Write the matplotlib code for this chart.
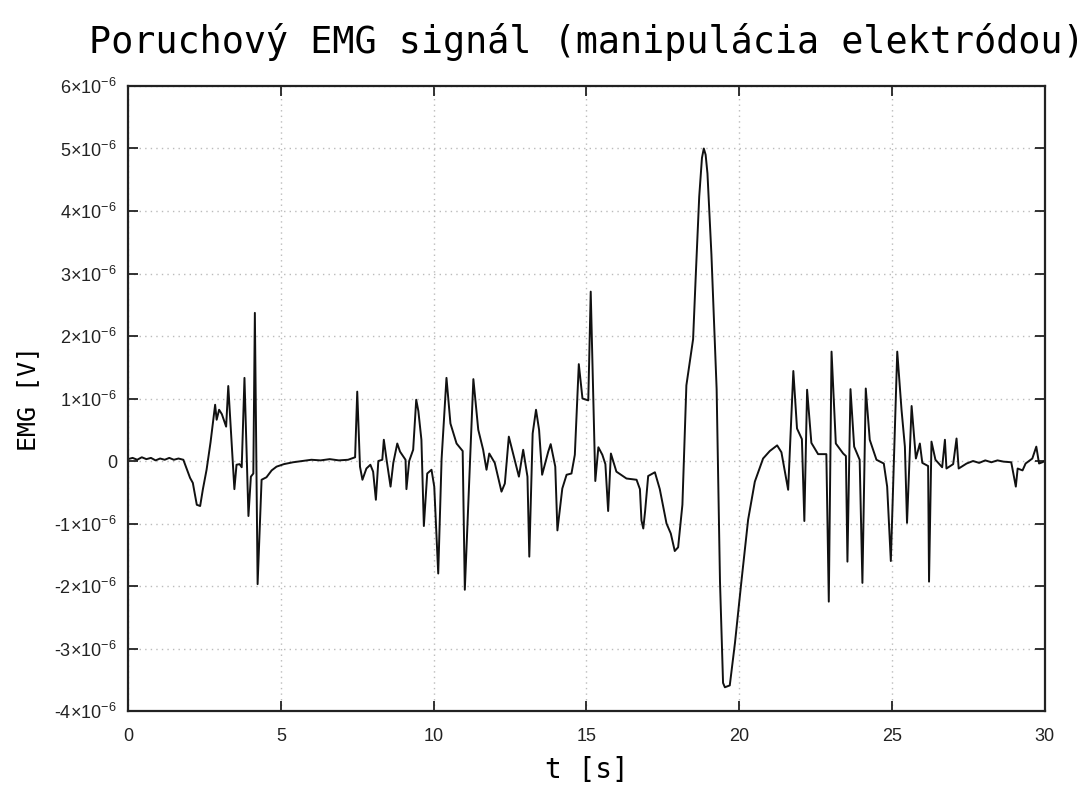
import numpy as np
import matplotlib
matplotlib.use('Agg')
import matplotlib.pyplot as plt
from matplotlib.ticker import FuncFormatter

# time [s] and EMG value [uV]
t_s = [0.00, 0.15, 0.30, 0.45, 0.60, 0.75, 0.90, 1.05, 1.20, 1.35, 1.50, 1.65, 1.81,
       2.03, 2.12, 2.25, 2.36, 2.45, 2.57, 2.70, 2.85, 2.90, 2.98, 3.07, 3.21, 3.28,
       3.48, 3.55, 3.65, 3.72, 3.81, 3.94, 4.02, 4.10, 4.15, 4.24, 4.37, 4.53, 4.70,
       4.86, 5.10, 5.40, 5.70, 6.00, 6.30, 6.60, 6.90, 7.20, 7.43, 7.50, 7.59, 7.67,
       7.80, 7.93, 8.02, 8.11, 8.19, 8.32, 8.37, 8.46, 8.59, 8.68, 8.81, 8.90, 9.08,
       9.11, 9.20, 9.33, 9.43, 9.50, 9.60, 9.68, 9.79, 9.93, 10.02, 10.15, 10.26,
       10.42, 10.55, 10.75, 10.95, 11.02, 11.30, 11.46, 11.62, 11.73, 11.82, 12.00,
       12.22, 12.33, 12.46, 12.60, 12.79, 12.93, 13.07, 13.13, 13.24, 13.35, 13.45,
       13.55, 13.75, 13.83, 13.98, 14.05, 14.21, 14.35, 14.51, 14.62, 14.75, 14.87,
       15.06, 15.14, 15.29, 15.39, 15.52, 15.62, 15.71, 15.80, 15.98, 16.31, 16.64,
       16.75, 16.80, 16.86, 16.92, 17.02, 17.24, 17.40, 17.62, 17.76, 17.89, 18.00,
       18.14, 18.27, 18.38, 18.49, 18.58, 18.69, 18.78, 18.84, 18.90, 18.96, 19.09,
       19.26, 19.37, 19.47, 19.53, 19.69, 19.86, 20.07, 20.29, 20.51, 20.78, 21.00,
       21.24, 21.38, 21.60, 21.77, 21.89, 22.05, 22.13, 22.22, 22.36, 22.58, 22.85,
       22.93, 23.02, 23.16, 23.40, 23.49, 23.54, 23.64, 23.76, 23.94, 24.03, 24.14,
       24.27, 24.49, 24.73, 24.84, 24.96, 25.17, 25.31, 25.42, 25.49, 25.64, 25.78,
       25.91, 25.99, 26.18, 26.21, 26.29, 26.42, 26.64, 26.73, 26.78, 27.00, 27.11,
       27.18, 27.44, 27.65, 27.85, 28.05, 28.25, 28.45, 28.65, 28.90, 29.05, 29.11,
       29.27, 29.37, 29.59, 29.72, 29.81, 29.92, 30.00]
emg_uv = [0.03, 0.05, 0.02, 0.06, 0.03, 0.05, 0.01, 0.04, 0.02, 0.05, 0.02, 0.04, 0.02,
          -0.27, -0.35, -0.70, -0.72, -0.45, -0.14, 0.30, 0.90, 0.66, 0.82, 0.75, 0.55, 1.20,
          -0.45, -0.06, -0.05, -0.10, 1.33, -0.88, -0.25, -0.20, 2.37, -1.97, -0.30, -0.26, -0.15,
          -0.09, -0.05, -0.02, 0.00, 0.02, 0.01, 0.03, 0.01, 0.02, 0.06, 1.11, -0.09, -0.30,
          -0.12, -0.06, -0.17, -0.62, 0.00, 0.02, 0.34, 0.02, -0.41, -0.03, 0.28, 0.15, 0.02,
          -0.45, 0.00, 0.18, 0.98, 0.80, 0.34, -1.04, -0.20, -0.14, -0.41, -1.80, 0.03,
          1.33, 0.60, 0.28, 0.16, -2.06, 1.31, 0.50, 0.18, -0.14, 0.12, -0.03,
          -0.49, -0.36, 0.39, 0.12, -0.25, 0.18, -0.25, -1.53, 0.44, 0.82, 0.50,
          -0.22, 0.15, 0.27, -0.09, -1.11, -0.44, -0.22, -0.20, 0.10, 1.55, 1.00,
          0.97, 2.71, -0.32, 0.22, 0.10, -0.05, -0.80, 0.12, -0.17, -0.28, -0.30,
          -0.45, -0.95, -1.08, -0.80, -0.24, -0.18, -0.45, -1.00, -1.16, -1.44, -1.38,
          -0.70, 1.21, 1.58, 1.95, 3.00, 4.23, 4.85, 5.00, 4.90, 4.60, 3.30,
          1.15, -1.93, -3.55, -3.62, -3.59, -2.91, -1.93, -0.94, -0.33, 0.04, 0.16,
          0.25, 0.14, -0.46, 1.44, 0.52, 0.35, -0.96, 1.14, 0.29, 0.11, 0.11,
          -2.25, 1.75, 0.28, 0.12, 0.08, -1.61, 1.15, 0.23, 0.02, -1.95, 1.16,
          0.34, 0.02, -0.04, -0.41, -1.60, 1.75, 0.82, 0.23, -0.99, 0.88, 0.04,
          0.28, -0.03, -0.08, -1.93, 0.31, 0.02, -0.10, 0.34, -0.12, -0.05, 0.36,
          -0.12, -0.04, 0.00, -0.03, 0.01, -0.02, 0.01, -0.01, -0.02, -0.41, -0.12,
          -0.15, -0.04, 0.04, 0.23, -0.04, -0.02, 0.00]

x_ticks = [0, 5, 10, 15, 20, 25, 30]
y_ticks = [-4e-6, -3e-6, -2e-6, -1e-6, 0, 1e-6, 2e-6, 3e-6, 4e-6, 5e-6, 6e-6]


def sci_label(v, pos):
    m = int(round(v * 1e6))
    if m == 0:
        return '0'
    sign = '-' if m < 0 else ''
    return sign + r'$%d{\times}10^{\mathrm{-6}}$' % abs(m)


def main():
    plt.rcParams['mathtext.fontset'] = 'custom'
    plt.rcParams['mathtext.rm'] = 'Liberation Sans'
    plt.rcParams['mathtext.it'] = 'Liberation Sans'
    plt.rcParams['font.family'] = 'Liberation Sans'
    plt.rcParams['axes.unicode_minus'] = False

    t = np.array(t_s)
    v = np.array(emg_uv) * 1e-6

    fig = plt.figure(figsize=(10.85, 7.94), dpi=100)
    ax = fig.add_axes([0.118, 0.1045, 0.845, 0.7872])
    ax.plot(t, v, color='#111111', linewidth=1.4)

    ax.set_xlim(0, 30)
    ax.set_ylim(-4e-6, 6e-6)
    ax.set_xticks(x_ticks)
    ax.set_yticks(y_ticks)
    ax.yaxis.set_major_formatter(FuncFormatter(sci_label))
    ax.tick_params(direction='in', length=7, width=1.3, top=True, right=True,
                   labelsize=13, colors='#222222', pad=8)
    ax.tick_params(axis='x', pad=12)
    for s in ax.spines.values():
        s.set_linewidth(1.6)
        s.set_color('#222222')
    ax.grid(True, linestyle=(0, (1, 3)), color='#bbbbbb', linewidth=1.0)

    mono = 'DejaVu Sans Mono'
    ax.set_title('Poruchový EMG signál (manipulácia elektródou)', family=mono,
                 fontsize=26.5, pad=24)
    ax.set_xlabel('t [s]', family=mono, fontsize=20, labelpad=8)
    ax.set_ylabel('EMG [V]', family=mono, fontsize=18, labelpad=10)

    fig.savefig('out.png', dpi=100)


if __name__ == "__main__":
    main()
